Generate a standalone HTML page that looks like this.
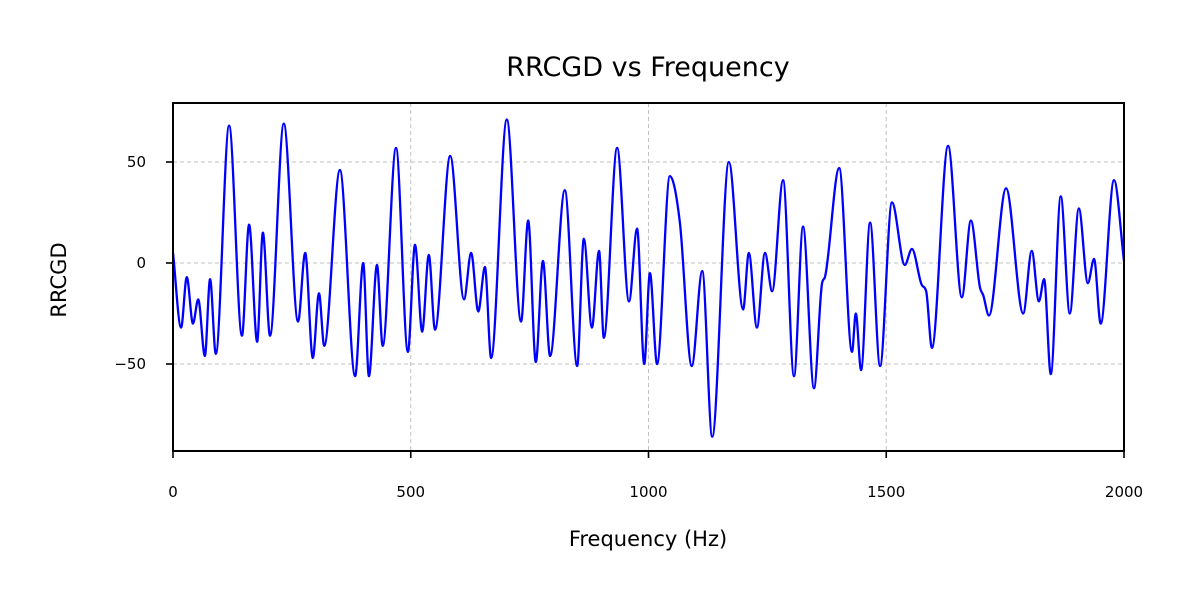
<!DOCTYPE html>
<html><head><meta charset="utf-8"><style>
body{margin:0;background:#fff;}
svg text{font-family:"DejaVu Sans","Liberation Sans",sans-serif;}
</style></head><body>
<svg id="chart" width="1200" height="600" viewBox="0 0 1200 600">
<rect width="1200" height="600" fill="#fff"/>
<text x="648" y="76" font-size="27" text-anchor="middle">RRCGD vs Frequency</text>
<g id="grid"></g>
<path id="line" fill="none" stroke="#0000ff" stroke-width="2.3"/>
<rect x="173" y="103" width="951" height="348" fill="none" stroke="#000" stroke-width="2"/>
<g id="ticks"></g>
<text x="648" y="546" font-size="21" text-anchor="middle">Frequency (Hz)</text>
<text x="66" y="280" font-size="21" text-anchor="middle" transform="rotate(-90 66 280)">RRCGD</text>
</svg>
<script>
const freqs=[0,17,29,42,53,67,78,90,118,145,160,177,189,204,233,263,278,294,307,318,351,383,400,412,429,441,469,494,509,524,538,551,583,612,627,642,656,669,702,732,747,763,778,793,824,850,864,881,896,906,934,959,976,991,1003,1018,1045,1066,1091,1113,1134,1169,1199,1211,1228,1245,1260,1283,1306,1325,1348,1365,1371,1401,1428,1436,1447,1466,1487,1512,1539,1554,1575,1584,1596,1630,1659,1678,1697,1704,1716,1752,1788,1806,1821,1832,1846,1867,1886,1905,1924,1937,1951,1979,2000];
const values=[5,-32,-7,-30,-18,-46,-8,-45,68,-36,19,-39,15,-36,69,-29,5,-47,-15,-41,46,-56,0,-56,-1,-41,57,-44,9,-34,4,-33,53,-18,5,-24,-2,-47,71,-29,21,-49,1,-46,36,-51,12,-32,6,-37,57,-19,17,-50,-5,-50,43,20,-51,-4,-86,50,-23,5,-32,5,-14,41,-56,18,-62,-10,-7,47,-44,-25,-53,20,-51,30,-1,7,-11,-14,-42,58,-17,21,-12,-16,-26,37,-25,6,-19,-8,-55,33,-25,27,-10,2,-30,41,1];
const xTicks=[0,500,1000,1500,2000];
const yTicks=[-50,0,50];
const X0=173,X1=1124,Y0=263,PY=2.02;
const sx=f=>X0+(f-0)*(X1-X0)/2000;
const sy=v=>Y0-v*PY;
const NS="http://www.w3.org/2000/svg";
const grid=document.getElementById('grid'),ticks=document.getElementById('ticks');
function mk(tag,attrs,parent){const e=document.createElementNS(NS,tag);for(const k in attrs)e.setAttribute(k,attrs[k]);parent.appendChild(e);return e;}
xTicks.forEach(t=>{
 const x=sx(t);
 if(t>0&&t<2000){const g=mk('line',{x1:x,x2:x,y1:103,y2:451,stroke:'#c0c0c0','stroke-width':1,'stroke-dasharray':'4,3'},grid);
 
 }
 mk('line',{x1:x,x2:x,y1:451,y2:458,stroke:'#000','stroke-width':1.6},ticks);
 const tx=mk('text',{x:x,y:497,'font-size':15,'text-anchor':'middle'},ticks);tx.textContent=t;
 
 
});
yTicks.forEach(t=>{
 const y=sy(t);
 const g=mk('line',{x1:173,x2:1124,y1:y,y2:y,stroke:'#c0c0c0','stroke-width':1,'stroke-dasharray':'4,3'},grid);
 
 
 mk('line',{x1:166,x2:173,y1:y,y2:y,stroke:'#000','stroke-width':1.6},ticks);
 const tx=mk('text',{x:146,y:y+5,'font-size':15,'text-anchor':'end'},ticks);tx.textContent=t===-50?'\u221250':t;
 
 
});
const px=freqs.map(sx),py=values.map(sy),n=px.length;
const d=[],m=[];
for(let i=0;i<n-1;i++)d.push((py[i+1]-py[i])/(px[i+1]-px[i]));
m[0]=d[0];m[n-1]=d[n-2];
for(let i=1;i<n-1;i++){m[i]=(d[i-1]*d[i]<=0)?0:(d[i-1]+d[i])/2;}
for(let i=0;i<n-1;i++){if(d[i]===0){m[i]=0;m[i+1]=0;continue;}const a=m[i]/d[i],b=m[i+1]/d[i],s=a*a+b*b;if(s>9){const t=3/Math.sqrt(s);m[i]=t*a*d[i];m[i+1]=t*b*d[i];}}
let p=`M${px[0]},${py[0]}`;
for(let i=0;i<n-1;i++){const h=(px[i+1]-px[i])/3;p+=`C${px[i]+h},${py[i]+m[i]*h} ${px[i+1]-h},${py[i+1]-m[i+1]*h} ${px[i+1]},${py[i+1]}`;}
document.getElementById('line').setAttribute('d',p);
</script>
</body></html>
